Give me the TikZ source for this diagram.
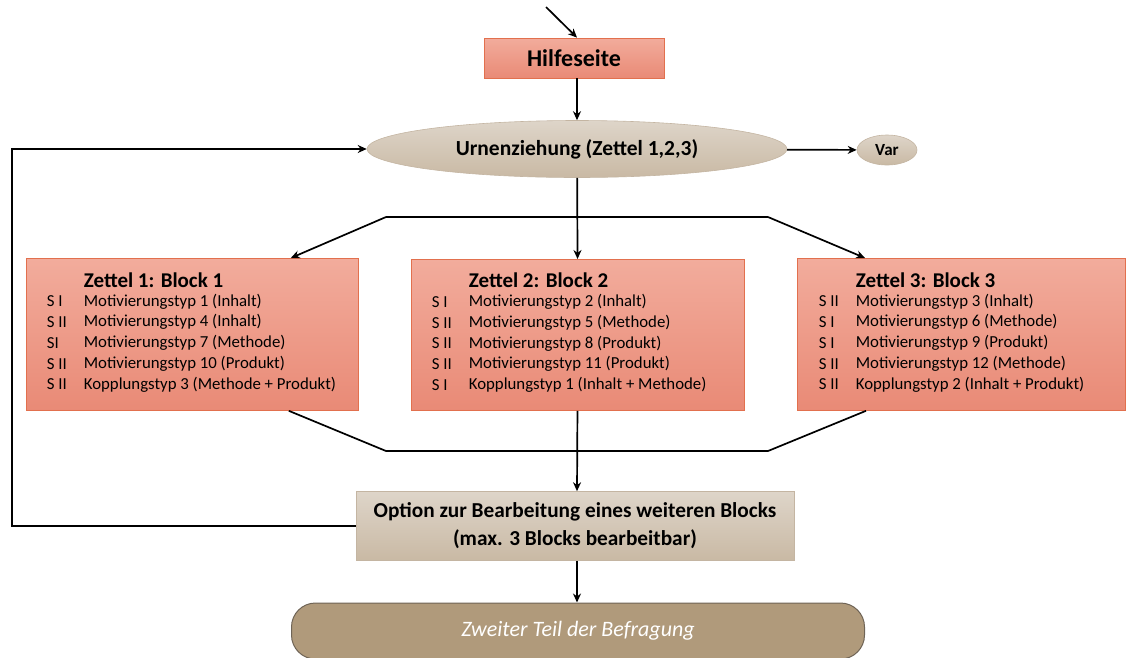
\documentclass[tikz,border=0pt]{standalone}
\usepackage{fontspec}
\setmainfont{Carlito}
\usetikzlibrary{shapes.geometric,arrows.meta,calc}

\definecolor{lachsoben}{HTML}{F2AC9C}
\definecolor{lachsunten}{HTML}{E98A76}
\definecolor{lachsrand}{HTML}{E2704E}
\definecolor{beigeoben}{HTML}{DED5C9}
\definecolor{beigeunten}{HTML}{C9B9A4}
\definecolor{beigerand}{HTML}{C4B5A2}
\definecolor{braun}{HTML}{B09A7B}
\definecolor{braunrand}{HTML}{6F6456}

\tikzset{
  redbox/.style={draw=lachsrand, line width=0.8pt, top color=lachsoben, bottom color=lachsunten, rectangle},
  beigebox/.style={draw=beigerand, line width=0.6pt, top color=beigeoben, bottom color=beigeunten},
  kopf/.style={anchor=west, inner sep=0pt, font=\fontsize{21}{25}\selectfont\bfseries},
  zeile/.style={anchor=west, inner sep=0pt, font=\fontsize{16.8}{20}\selectfont},
}

\begin{document}
\begin{tikzpicture}[x=1pt, y=-1pt, line width=1.7pt, >={Stealth[length=9pt,width=8pt]}]
    \useasboundingbox (0,0) rectangle (1126,657);

    \coordinate (start) at (546,7);
    \node[redbox, minimum width=180pt, minimum height=40pt, font=\fontsize{24}{28}\selectfont\bfseries] (hilfe) at (574,58) {Hilfeseite};
    \node[beigebox, ellipse, minimum width=420pt, minimum height=57pt, font=\fontsize{21.5}{25}\selectfont\bfseries] (urne) at (577,149) {Urnenziehung (Zettel 1,2,3)};
    \node[beigebox, ellipse, minimum width=60pt, minimum height=30pt, inner sep=1pt, font=\fontsize{17}{20}\selectfont\bfseries] (var) at (887,150) {Var};

    \draw[->] (start) -- ($(hilfe.north)+(3,0)$);
    \draw[->] ($(hilfe.south)+(3,0)$) -- (urne);
    \draw[->] (urne) -- (var);

    % Zettel
    \node[redbox, anchor=north west, minimum width=332pt, minimum height=152pt] (z1) at (26,258) {};
    \node[redbox, anchor=north west, minimum width=333pt, minimum height=151pt] (z2) at (411,259) {};
    \node[redbox, anchor=north west, minimum width=328pt, minimum height=152pt] (z3) at (797,258) {};

    \node[kopf] (k1) at ($(z1.north west)+(57,22)$) {Zettel 1: Block 1};
    \node[kopf] (k2) at ($(z2.north west)+(57,21)$) {Zettel 2: Block 2};
    \node[kopf] (k3) at ($(z3.north west)+(58,22)$) {Zettel 3: Block 3};

    \foreach \s/\t [count=\i from 0] in {S I/Motivierungstyp 1 (Inhalt), S II/Motivierungstyp 4 (Inhalt), SI/Motivierungstyp 7 (Methode), S II/Motivierungstyp 10 (Produkt), S II/Kopplungstyp 3 (Methode + Produkt)} {
        \node[zeile] (s1\i) at ($(z1.north west)+(20,43.5+20.7*\i)$) {\s};
        \node[zeile] (t1\i) at ($(z1.north west)+(57,43.5+20.7*\i)$) {\t};
    }
    \foreach \s/\t [count=\i from 0] in {S I/Motivierungstyp 2 (Inhalt), S II/Motivierungstyp 5 (Methode), S II/Motivierungstyp 8 (Produkt), S II/Motivierungstyp 11 (Produkt), S I/Kopplungstyp 1 (Inhalt + Methode)} {
        \node[zeile] (s2\i) at ($(z2.north west)+(20,43+20.7*\i)$) {\s};
        \node[zeile] (t2\i) at ($(z2.north west)+(57,43+20.7*\i)$) {\t};
    }
    \foreach \s/\t [count=\i from 0] in {S II/Motivierungstyp 3 (Inhalt), S I/Motivierungstyp 6 (Methode), S I/Motivierungstyp 9 (Produkt), S II/Motivierungstyp 12 (Methode), S II/Kopplungstyp 2 (Inhalt + Produkt)} {
        \node[zeile] (s3\i) at ($(z3.north west)+(21,43.5+20.7*\i)$) {\s};
        \node[zeile] (t3\i) at ($(z3.north west)+(58,43.5+20.7*\i)$) {\t};
    }

    % Verzweigung
    \coordinate (vl) at (386,217);
    \coordinate (vr) at (768,217);
    \draw (vl) -- (vr);
    \draw[->] (vl) -- ($(z1.north east)+(-68,0)$);
    \draw[->] (vr) -- ($(z3.north west)+(68,0)$);
    \draw[->] (urne) -- (z2);

    % Zusammenfuehrung
    \coordinate (ml) at (386,451);
    \coordinate (mr) at (768,451);
    \draw ($(z1.south east)+(-70,0)$) -- (ml) -- (mr) -- ($(z3.south west)+(69,0)$);

    \node[beigebox, minimum width=438pt, minimum height=69pt, align=center, font=\fontsize{21.3}{28}\selectfont\bfseries] (option) at (575,526) {Option zur Bearbeitung eines weiteren Blocks\\(max. 3 Blocks bearbeitbar)};
    \node[draw=braunrand, line width=1pt, fill=braun, rounded corners=24pt, minimum width=573pt, minimum height=56pt, text=white, font=\fontsize{22}{26}\selectfont\itshape] (ende) at (578,631) {Zweiter Teil der Befragung};

    \draw[->] ($(option.south)+(2,0)$) -- ($(ende.north)+(-1,0)$);
    \draw[->] (z2) -- ($(option.north)+(2,0)$);

    % Rueckfuehrung
    \coordinate (rueck) at (12,149);
    \draw[->] (option.west) -| (rueck) -- (urne.west);
\end{tikzpicture}
\end{document}
